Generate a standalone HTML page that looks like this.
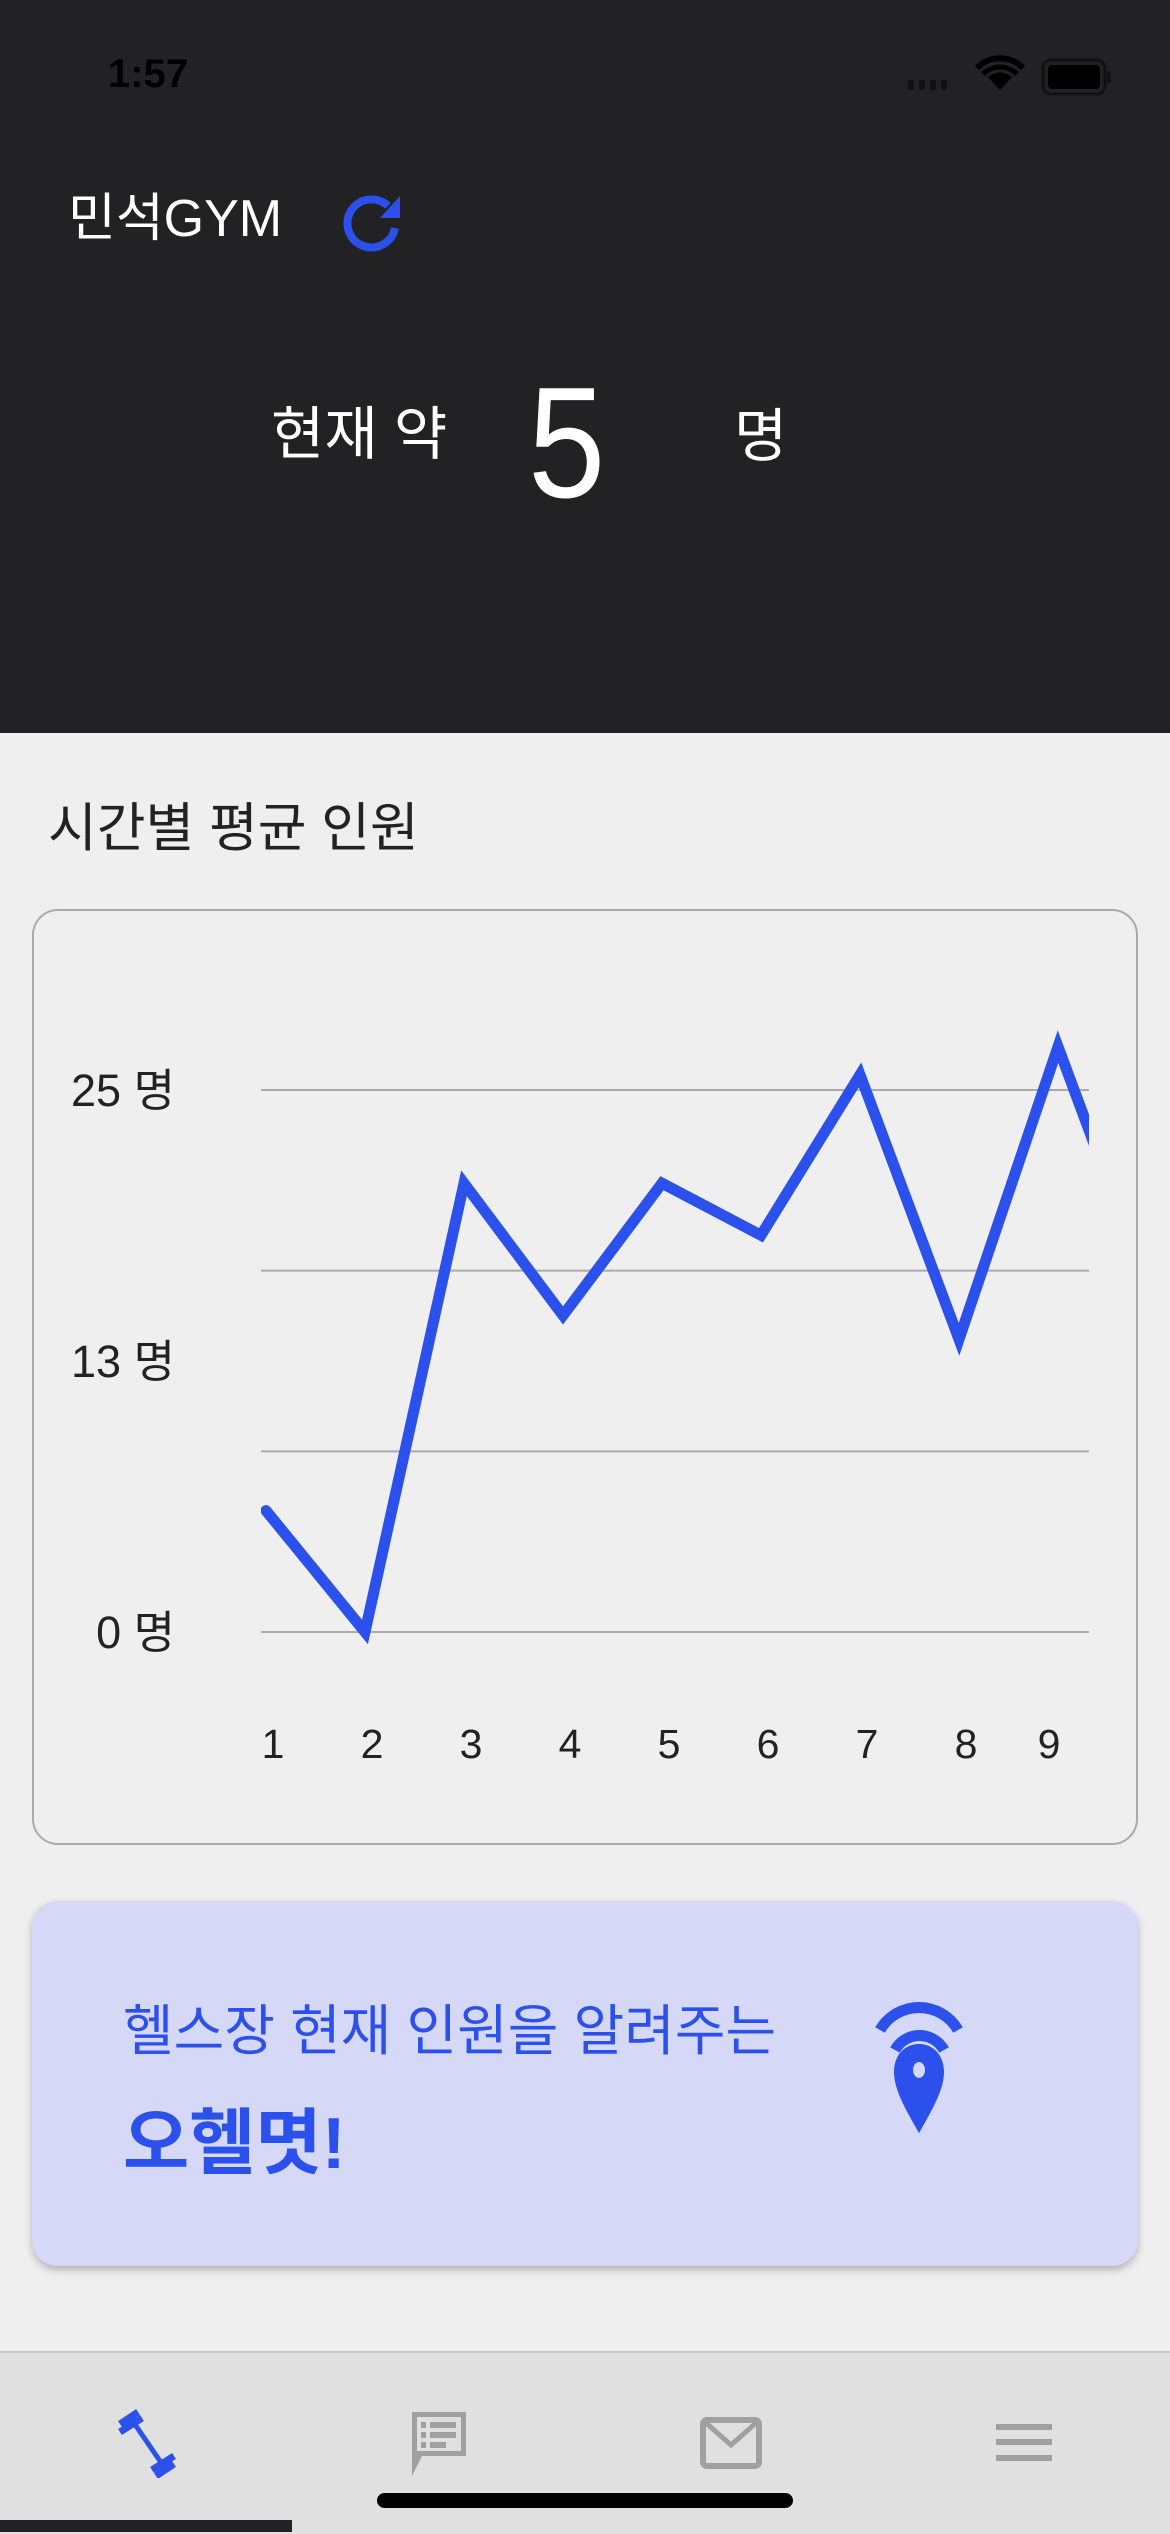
<!DOCTYPE html>
<html><head><meta charset="utf-8">
<style>
html,body{margin:0;padding:0;}
body{width:1170px;height:2532px;position:relative;overflow:hidden;background:#efefef;font-family:"Liberation Sans","Noto Sans CJK KR",sans-serif;}
.abs{position:absolute;}
.t{position:absolute;white-space:nowrap;line-height:1;}
</style></head>
<body>
<div class="abs" style="left:0;top:0;width:1170px;height:733px;background:#222224;"></div>
<div class="t" style="left:108px;top:54px;font-size:40px;font-weight:bold;color:#000;">1:57</div>
<svg class="abs" style="left:900px;top:50px" width="230" height="50" viewBox="0 0 230 50">
  <g fill="#111"><rect x="8" y="30" width="6" height="10" rx="2"/><rect x="19" y="30" width="6" height="10" rx="2"/><rect x="30" y="30" width="6" height="10" rx="2"/><rect x="41" y="30" width="6" height="10" rx="2"/></g>
  <path d="M100 40 L88 27 A18 18 0 0 1 112 27 Z" fill="#000"/>
  <path d="M77 18 A32 32 0 0 1 123 18" stroke="#000" stroke-width="6" fill="none"/>
  <path d="M83 24 A24 24 0 0 1 117 24" stroke="#000" stroke-width="5" fill="none"/>
  <rect x="143" y="10" width="62" height="34" rx="8" fill="none" stroke="#111" stroke-width="3"/>
  <rect x="148" y="15" width="52" height="24" rx="4" fill="#000"/>
  <rect x="207" y="21" width="4" height="12" rx="2" fill="#111"/>
</svg>
<div class="t" style="left:68px;top:193px;font-size:52px;color:#fff;">민석GYM</div>
<svg class="abs" style="left:340px;top:190px" width="66" height="66" viewBox="0 0 66 66">
  <path d="M48 16 A24 24 0 1 0 55 38" stroke="#2b50ec" stroke-width="8" fill="none"/>
  <path d="M40 28 L60 28 L60 6 Z" fill="#2b50ec"/>
</svg>
<div class="t" style="left:271px;top:406px;font-size:58px;color:#fff;">현재 약</div>
<div class="t" style="left:528px;top:364px;font-size:158px;color:#fff;transform:scaleX(0.88);transform-origin:left top;">5</div>
<div class="t" style="left:734px;top:408px;font-size:58px;color:#fff;">명</div>

<div class="t" style="left:48px;top:802px;font-size:53px;color:#222;">시간별 평균 인원</div>
<div class="abs" style="left:32px;top:909px;width:1106px;height:936px;border:2px solid #aaa;border-radius:26px;box-sizing:border-box;"></div>
<svg class="abs" id="chart" style="left:0;top:0" width="1170" height="1900"></svg>

<div class="abs" style="left:32px;top:1901px;width:1106px;height:365px;background:#d5d8f6;border-radius:26px;box-shadow:0 4px 8px rgba(0,0,0,0.25);"></div>
<div class="t" style="left:123px;top:2004px;font-size:55px;color:#2b50ec;">헬스장 현재 인원을 알려주는</div>
<div class="t" style="left:123px;top:2108px;font-size:72px;font-weight:bold;color:#2b50ec;">오헬몃!</div>
<svg class="abs" style="left:870px;top:2000px" width="100" height="135" viewBox="0 0 100 135">
  <path d="M10 30 A45 45 0 0 1 88 30" stroke="#2b50ec" stroke-width="11" fill="none"/>
  <path d="M25 50 A28 28 0 0 1 74 50" stroke="#2b50ec" stroke-width="11" fill="none"/>
  <path d="M49 133 C38 112 27 92 27 74 C27 54 37 62 49 62 C62 62 72 54 72 74 C72 92 61 112 49 133 Z" fill="#2b50ec"/>
  <path d="M49 133 C36 110 24 90 24 72 C24 55 35 44 49 44 C63 44 74 55 74 72 C74 90 62 110 49 133 Z" fill="#2b50ec"/>
  <ellipse cx="49" cy="70" rx="6" ry="8" fill="#d5d8f6"/>
</svg>

<div class="abs" style="left:0;top:2351px;width:1170px;height:181px;background:#e0e0e0;border-top:2px solid #c8c8c8;"></div>
<svg class="abs" style="left:116px;top:2406px" width="62" height="72" viewBox="0 0 62 72">
  <path d="M16 14 L46 58" stroke="#2b50ec" stroke-width="5"/>
  <path d="M4 18 L22 6 M4 26 L26 12 M36 64 L58 50 M40 70 L58 58" stroke="#2b50ec" stroke-width="7"/>
</svg>
<svg class="abs" style="left:408px;top:2410px" width="62" height="66" viewBox="0 0 62 66">
  <path d="M4 2 H58 V46 H14 L4 66 Z" fill="#a0a0a0"/>
  <rect x="9" y="7" width="44" height="34" fill="#e0e0e0"/>
  <g fill="#a0a0a0"><rect x="13" y="12" width="5" height="6"/><rect x="22" y="12" width="26" height="6"/><rect x="13" y="22" width="5" height="6"/><rect x="22" y="22" width="26" height="6"/><rect x="13" y="32" width="5" height="6"/><rect x="22" y="32" width="16" height="6"/></g>
</svg>
<svg class="abs" style="left:700px;top:2417px" width="62" height="52" viewBox="0 0 62 52">
  <rect x="3" y="3" width="56" height="46" rx="4" fill="none" stroke="#a0a0a0" stroke-width="6"/>
  <path d="M6 6 L31 28 L56 6" fill="none" stroke="#a0a0a0" stroke-width="5"/>
</svg>
<svg class="abs" style="left:996px;top:2424px" width="56" height="40" viewBox="0 0 56 40">
  <g fill="#a0a0a0"><rect x="0" y="0" width="56" height="6"/><rect x="0" y="15" width="56" height="6"/><rect x="0" y="31" width="56" height="6"/></g>
</svg>
<div class="abs" style="left:377px;top:2493px;width:416px;height:15px;background:#000;border-radius:8px;"></div>
<div class="abs" style="left:0;top:2520px;width:292px;height:12px;background:#222224;"></div>

<script>
const hours = [1,2,3,4,5,6,7,8,9,10];
const avgCount = [5.6,0,20.7,14.6,20.7,18.3,25.7,13.5,27.0,14.7];
const yTickLabels = ["0 명","13 명","25 명"];
const yTickValues = [0,12.5,25];
const gridValues = [0,25/3,50/3,25];

const svg = document.getElementById('chart');
const NS = 'http://www.w3.org/2000/svg';
const plotL = 261, plotR = 1089;
const y0 = 1632, pxPerUnit = 21.68;
const x0 = 266, dx = 99;
function xs(i){ return x0 + i*dx; }
function ys(v){ return y0 - v*pxPerUnit; }

const defs = document.createElementNS(NS,'defs');
defs.innerHTML = '<clipPath id="plotclip"><rect x="'+plotL+'" y="900" width="'+(plotR-plotL)+'" height="900"/></clipPath>';
svg.appendChild(defs);

gridValues.forEach(v=>{
  const l = document.createElementNS(NS,'line');
  
  
  l.setAttribute('x1',plotL); l.setAttribute('x2',plotR);
  l.setAttribute('y1',ys(v)); l.setAttribute('y2',ys(v));
  l.setAttribute('stroke','#aaa'); l.setAttribute('stroke-width','2');
  svg.appendChild(l);
});

yTickValues.forEach((v,i)=>{
  const t = document.createElementNS(NS,'text');
  
  
  t.setAttribute('x',175); t.setAttribute('y',ys(v)+16);
  t.setAttribute('text-anchor','end');
  t.setAttribute('font-size','45');
  t.setAttribute('fill','#222');
  t.setAttribute('font-family','"Liberation Sans","Noto Sans CJK KR",sans-serif');
  t.textContent = yTickLabels[i];
  svg.appendChild(t);
});

let d = '';
avgCount.forEach((v,i)=>{ d += (i?'L':'M') + xs(i) + ' ' + ys(v) + ' '; });
const path = document.createElementNS(NS,'path');


path.setAttribute('d', d);
path.setAttribute('fill','none');
path.setAttribute('stroke','#2b50ec');
path.setAttribute('stroke-width','11');
path.setAttribute('stroke-linejoin','miter');
path.setAttribute('stroke-linecap','round');
path.setAttribute('clip-path','url(#plotclip)');
svg.appendChild(path);

hours.forEach((h,i)=>{
  if (xs(i) > plotR) return;
  let x = xs(i) + 7;
  if (x > plotR - 30) x = plotR - 40;
  const t = document.createElementNS(NS,'text');
  
  
  t.setAttribute('x',x); t.setAttribute('y',1758);
  t.setAttribute('text-anchor','middle');
  t.setAttribute('font-size','41');
  t.setAttribute('fill','#222');
  t.setAttribute('font-family','"Liberation Sans",sans-serif');
  t.textContent = h;
  svg.appendChild(t);
});
</script>
</body></html>
